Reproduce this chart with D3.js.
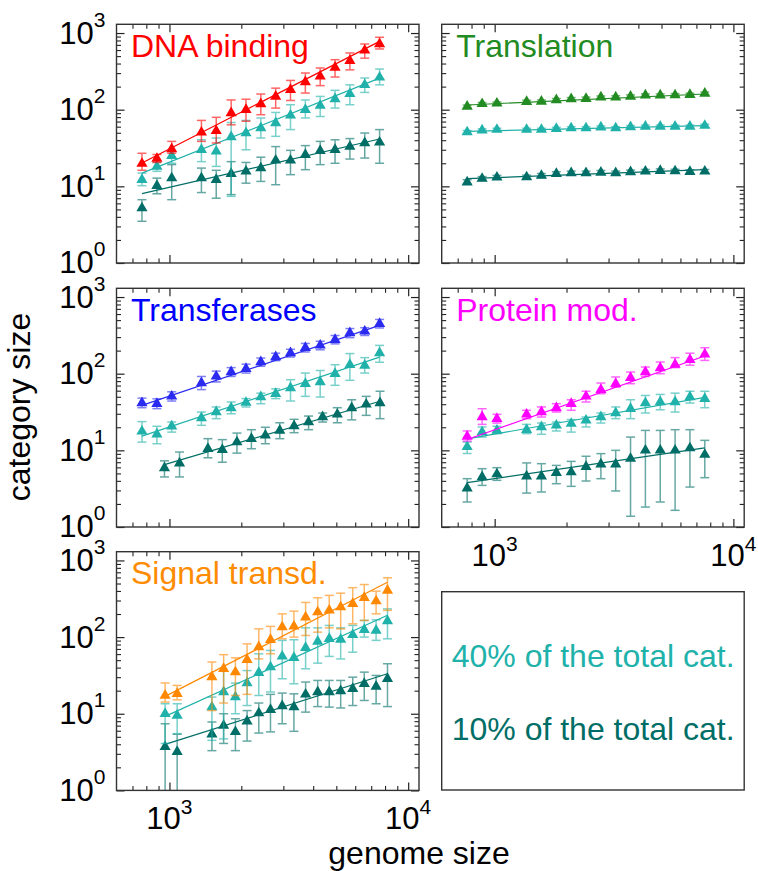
<!DOCTYPE html>
<html>
<head>
<meta charset="utf-8">
<script src="https://cdn.jsdelivr.net/npm/d3@7"></script>
<style>
  html, body { margin: 0; padding: 0; background: #fff; }
  svg { display: block; font-family: "Liberation Sans", Arial, sans-serif; }
</style>
</head>
<body>
<svg id="chart" width="758" height="871"></svg>
<script>
// Genome-size bins (x positions of the binned averages)
const binsMain = [767, 886, 1022, 1361, 1570, 1813, 2092, 2414, 2786, 3214, 3709, 4280, 4939, 5699, 6577, 7590];
const binsTransfer10 = [953, 1102, 1449, 1665, 1917, 2204, 2522, 2898, 3327, 3826, 4382, 5048, 5800, 6670, 7622];
const binsSignal = [959, 1077, 1506, 1686, 1889, 2114, 2367, 2650, 2967, 3322, 3718, 4178, 4670, 5215, 5858, 6547, 7339, 8190];

// Category sizes: [mean, lower, upper]
const dnaAll = [[19.8,16.2,27],[23,20.5,26],[30.7,27,38.6],[50.6,38.6,72.5],[53,36.8,79.5],[90.5,63.5,134],[100,70.7,137],[118.6,86,160],[149,105,191],[182,132,241],[229.5,165,301],[272,206,350],[356,267,449],[435,331,550],[594,470,719],[719,620,880]];
const dna40 = [[12.2,10.2,14.9],[18.2,15.7,20.5],[25.1,20,28.5],[30,21,40.5],[28.6,18.2,42.7],[44,7.4,68],[49.6,30,72.5],[57.7,42.7,78],[67,44.9,92],[84.4,55,116],[100,78,134],[113,81.5,149],[138,105,179],[161,116,211],[211,168,259],[264,211,339]];
const dna10 = [[5.2,3.5,6.7],[10.2,8,12.8],[12.8,6.7,19.2],[12.8,8.3,17.3],[12.2,7,16.2],[14.6,7.8,21],[15.7,11,20.5],[17.3,11.6,24],[21.8,10.5,33],[21.8,14.2,29.5],[25.9,16.5,34],[29.2,19.2,38.6],[30,20,40.5],[33,22.7,42],[36.8,23.4,49.6],[37.5,20,55]];

const trAll = [[110,105,115],[119,114,124],[121,116,126],[127,122,133],[128,123,134],[134,128,140],[138,132,144],[139,133,146],[145,139,151],[145,139,152],[149,143,156],[154,147,161],[154,147,161],[155,148,162],[157,150,164],[163,156,170]];
const tr40 = [[51,49,53.5],[54,51.8,56.3],[55,52.8,57.3],[55,52.8,57.3],[55,52.8,57.3],[56.5,54.2,58.8],[57.5,55.2,59.9],[57.5,55.2,59.9],[59,56.6,61.4],[57.5,55.2,59.9],[59.5,57.1,62],[60.5,58.1,63],[60.5,58.1,63],[60.5,58.1,63],[60.5,58.1,63],[62,59.5,64.6]];
const tr10 = [[11.3,10.7,12.2],[12.6,11.9,13.4],[13.1,12.4,13.9],[13.2,12.5,14],[13.8,13,14.7],[14.6,13.8,15.5],[14.9,14.1,15.8],[14.9,14.1,15.8],[15.2,14.4,16.1],[14.9,14.1,15.8],[15.4,14.6,16.3],[15.7,14.9,16.6],[16,15.2,16.9],[15.8,15,16.7],[15.5,14.7,16.4],[15.7,14.9,16.6]];

const tfAll = [[41.4,36,48],[40.6,35,47],[50.6,44,58],[75.5,62,92],[92.3,78,108],[105,92,120],[116,102,133],[142,125,160],[165,148,185],[186,165,208],[218,192,248],[234,205,265],[278,245,315],[339,295,388],[357,315,398],[449,395,510]];
const tf40 = [[17.7,12.8,23.7],[16.2,12.2,20.6],[20.6,17.3,23.4],[26.4,21.2,31.6],[31.6,25.9,36.8],[35.7,30,42.7],[41.9,36.8,47.3],[49.6,40.6,55.7],[54.8,47.3,63.5],[65,44,83.5],[74,50.6,102],[77.8,49.6,110],[100,70.5,131],[131,82,183],[128,102,162],[186,141,234]];
const tf10 = [[5.9,4.5,7.3],[6.8,4.5,9.5],[10.5,8,14.2],[10.2,7,13.8],[12.8,9.2,16.8],[14.2,10.5,18.6],[15.7,12.2,20],[18.2,14.2,22.9],[20.8,17,25.4],[23.4,18.6,28],[27.2,23.4,30.7],[29.5,22.9,36],[35.7,25,45.7],[39.8,28.6,50.6],[41.4,25.9,59]];

const pmAll = [[15.2,13.2,17.9],[27.2,21.8,34.9],[25.9,22.7,29.5],[29.5,25.9,33.3],[31.6,27.2,36.8],[35.7,31.6,40.6],[40.6,33.3,45.7],[50.6,42.7,59],[61.8,54.8,75.5],[74.1,66.6,90.6],[88.7,74,105],[105,92,122],[118.6,100,142],[132,120,162],[152,129,185],[179,149,218]];
const pm40 = [[11.1,9.1,12.8],[17.3,14.9,20.2],[18.2,16.5,20.6],[18.6,16.5,21.8],[20.2,16.2,22.7],[21.2,17.9,23.4],[22.3,17.3,25.2],[24.6,20.2,27.2],[27.2,22.7,30.7],[30.7,25.9,36.8],[34.9,25.9,45.7],[41.4,30.7,52],[42.7,33.8,53.6],[42.7,31.6,55.7],[49.6,41.4,59],[47.2,36,59]];
const pm10 = [[3.2,2.12,4.27],[4.5,3.49,5.76],[4.9,4.06,5.94],[4.6,2.77,6.85],[4.6,2.86,6.7],[5.1,3.67,6.36],[5.2,3.39,7.18],[6.1,3.98,8.37],[6.6,4.27,9.06],[6.6,2.95,10],[7.8,1.38,14.9],[10,1.82,18.2],[10,2.12,18.2],[10,1.65,18.6],[10.7,3.32,18.6],[8.8,4.4,13.5]];

const stAll = [[17.3,14.2,25.2],[18.2,15.2,23.4],[30.1,11,47.3],[38.6,13.8,59],[34.9,17.3,53.6],[50.6,17.9,81.5],[74.1,52,128],[92.3,60.5,138],[135,95,201],[138,100,218],[182,105,283],[212,116,326],[223,132,350],[246,128,374],[272,149,441],[326,165,485],[295,201,397],[406,223,594]];
const st40 = [[10,4.1,13.5],[9.5,5.5,13.5],[12.2,4.5,16.5],[19.2,4.7,36],[16.5,10,25.1],[25.1,12.8,36.6],[34.3,17.3,60.5],[40.6,19.2,67],[56,28.6,90.6],[53.7,24.6,92.3],[72.6,38.6,132],[87.8,45.7,132],[95.1,56,142],[93.2,51.9,132],[107,63.5,142],[125,100,165],[122,90.6,168],[162,95,233]];
const st10 = [[3.7,0.5,7.4],[3.2,0.5,5.4],[5.4,3.3,7.8],[7,4.1,10],[5.8,3.3,8.6],[8,4.4,11],[10.2,5.6,13.8],[11.3,5.8,17.9],[12.6,7.4,18.6],[12.2,5.9,18.2],[17.9,10.5,25.9],[19.2,12.4,27.2],[19.2,12.2,27.2],[19.8,11.9,27.2],[21.2,12.8,30],[24.6,14.9,34.9],[22.7,13.5,31.6],[28.6,12.4,44.9]];

// Power-law fits: [size at genome 1000, exponent]
const dnaFits = [[30.7, 1.595], [20.7, 1.245], [9.7, 0.717]];
const trFits = [[119.7, 0.144], [53.2, 0.074], [13.0, 0.118]];
const tfFits = [[51, 1.048], [20.2, 1.035], [6.8, 0.916]];
const pmFits = [[18.5, 1.094], [16.3, 0.545], [4.28, 0.455]];
const stFits = [[18.0, 1.60], [9.8, 1.416], [4.15, 0.99]];

const panelTitles = ["DNA binding", "Translation", "Transferases", "Protein mod.", "Signal transd."];
const legendLabels = ["40% of the total cat.", "10% of the total cat."];
const xTitle = "genome size";
const yTitle = "category size";
const xMajor = [1e3, 1e4];
const yMajor = [1, 10, 100, 1000];

// ---- styling / layout ----
const C40 = "#20b2aa", C10 = "#006e66";
const svg = d3.select("#chart");
const colX = [116.5, 441.7], colW = 302.5;
const rowY = [24.3, 288.3, 551.7], rowH = 238.7;

const panels = [
  { title: panelTitles[0], color: "#ff0000", col: 0, row: 0, yLabels: true, xLabels: false,
    series: [[binsMain, dna10, dnaFits[2], C10], [binsMain, dna40, dnaFits[1], C40], [binsMain, dnaAll, dnaFits[0], "#ff0000"]] },
  { title: panelTitles[1], color: "#228b22", col: 1, row: 0, yLabels: false, xLabels: false,
    series: [[binsMain, tr10, trFits[2], C10], [binsMain, tr40, trFits[1], C40], [binsMain, trAll, trFits[0], "#228b22"]] },
  { title: panelTitles[2], color: "#0000ff", col: 0, row: 1, yLabels: true, xLabels: false,
    series: [[binsTransfer10, tf10, tfFits[2], C10], [binsMain, tf40, tfFits[1], C40], [binsMain, tfAll, tfFits[0], "#2a2af0"]] },
  { title: panelTitles[3], color: "#ff00ff", col: 1, row: 1, yLabels: false, xLabels: true,
    series: [[binsMain, pm10, pmFits[2], C10], [binsMain, pm40, pmFits[1], C40], [binsMain, pmAll, pmFits[0], "#ff00ff"]] },
  { title: panelTitles[4], color: "#ff8c00", col: 0, row: 2, yLabels: true, xLabels: true,
    series: [[binsSignal, st10, stFits[2], C10], [binsSignal, st40, stFits[1], C40], [binsSignal, stAll, stFits[0], "#ff8800"]] }
];

const minorX = [700, 800, 900, 2000, 3000, 4000, 5000, 6000, 7000, 8000, 9000];
const minorY = [];
[1, 10, 100].forEach(d => { for (let k = 2; k <= 9; k++) minorY.push(d * k); });

const tri = d3.symbol().type(d3.symbolTriangle).size(54);

panels.forEach((p, i) => {
  const w = colW, h = rowH;
  const g = svg.append("g").attr("transform", `translate(${colX[p.col]},${rowY[p.row]})`);
  const x = d3.scaleLog().domain([600, 11100]).range([0, w]);
  const y = d3.scaleLog().domain([1, 1300]).range([h, 0]);

  const clipId = "clip" + i;
  g.append("clipPath").attr("id", clipId).append("rect").attr("width", w).attr("height", h);

  // inward ticks on all four sides
  const tickSets = [
    [d3.axisLeft(y), [0, 0], true], [d3.axisRight(y), [w, 0], true],
    [d3.axisTop(x), [0, 0], false], [d3.axisBottom(x), [0, h], false]
  ];
  tickSets.forEach(([ax, [tx, ty], isY]) => {
    const major = isY ? yMajor : xMajor;
    const minor = isY ? minorY : minorX;
    g.append("g").attr("transform", `translate(${tx},${ty})`)
      .call(ax.tickValues(minor).tickSize(-4.5).tickSizeOuter(0).tickFormat(""))
      .call(s => s.select(".domain").remove())
      .call(s => s.selectAll("line").attr("stroke", "#222").attr("stroke-width", 1.1));
    g.append("g").attr("transform", `translate(${tx},${ty})`)
      .call(ax.tickValues(major).tickSize(-8).tickSizeOuter(0).tickFormat(""))
      .call(s => s.select(".domain").remove())
      .call(s => s.selectAll("line").attr("stroke", "#222").attr("stroke-width", 1.2));
  });

  const plot = g.append("g").attr("clip-path", `url(#${clipId})`);

  p.series.forEach(([bins, rows, fit, color]) => {
    const pts = rows.map((r, k) => ({ x: bins[k], v: r[0], lo: r[1], hi: r[2] }));
    // error bars
    const eb = plot.append("g").attr("stroke", color).attr("stroke-width", 1.5).attr("opacity", 0.6);
    pts.forEach(d => {
      const cx = x(d.x);
      eb.append("line").attr("x1", cx).attr("x2", cx).attr("y1", y(d.lo)).attr("y2", y(d.hi));
      eb.append("line").attr("x1", cx - 4.5).attr("x2", cx + 4.5).attr("y1", y(d.lo)).attr("y2", y(d.lo));
      eb.append("line").attr("x1", cx - 4.5).attr("x2", cx + 4.5).attr("y1", y(d.hi)).attr("y2", y(d.hi));
    });
    // fitted power law
    const [a, b] = fit;
    const ends = [bins[0], bins[bins.length - 1]];
    plot.append("path")
      .attr("d", d3.line().x(gs => x(gs)).y(gs => y(a * Math.pow(gs / 1000, b)))(ends))
      .attr("fill", "none").attr("stroke", color).attr("stroke-width", 1.2);
    // markers
    plot.append("g").selectAll("path").data(pts).join("path")
      .attr("d", tri)
      .attr("transform", d => `translate(${x(d.x)},${y(d.v)})`)
      .attr("fill", color);
  });

  // frame
  g.append("rect").attr("width", w).attr("height", h)
    .attr("fill", "none").attr("stroke", "#333").attr("stroke-width", 1.4);

  // title
  g.append("text").attr("x", 14.5).attr("y", 32.3).attr("font-size", 32)
    .attr("fill", p.color).text(p.title);

  // y tick labels
  if (p.yLabels) {
    yMajor.forEach(v => {
      const t = g.append("text").attr("text-anchor", "end")
        .attr("x", -11).attr("y", y(v) + 10.5).attr("font-size", 31).attr("fill", "#000");
      t.append("tspan").text("10");
      t.append("tspan").attr("font-size", 21).attr("dy", -17).text(String(Math.round(Math.log10(v))));
    });
  }
  // x tick labels
  if (p.xLabels) {
    xMajor.forEach(v => {
      const t = g.append("text").attr("text-anchor", "middle")
        .attr("x", x(v)).attr("y", h + 39).attr("font-size", 31).attr("fill", "#000");
      t.append("tspan").text("10");
      t.append("tspan").attr("font-size", 21).attr("dy", -15).text(String(Math.round(Math.log10(v))));
    });
  }
});

// legend box
const lg = svg.append("g").attr("transform", `translate(${colX[1]},${591.7})`);
lg.append("rect").attr("width", colW).attr("height", 790 - 591.7)
  .attr("fill", "none").attr("stroke", "#333").attr("stroke-width", 1.4);
lg.append("text").attr("x", 10).attr("y", 75).attr("font-size", 32).attr("fill", C40).text(legendLabels[0]);
lg.append("text").attr("x", 10).attr("y", 148.5).attr("font-size", 32).attr("fill", C10).text(legendLabels[1]);

// axis titles
svg.append("text").attr("x", 419).attr("y", 864).attr("text-anchor", "middle")
  .attr("font-size", 32).attr("fill", "#000").text(xTitle);
svg.append("text").attr("transform", "translate(30,407) rotate(-90)").attr("text-anchor", "middle")
  .attr("font-size", 32).attr("fill", "#000").text(yTitle);
</script>
</body>
</html>
